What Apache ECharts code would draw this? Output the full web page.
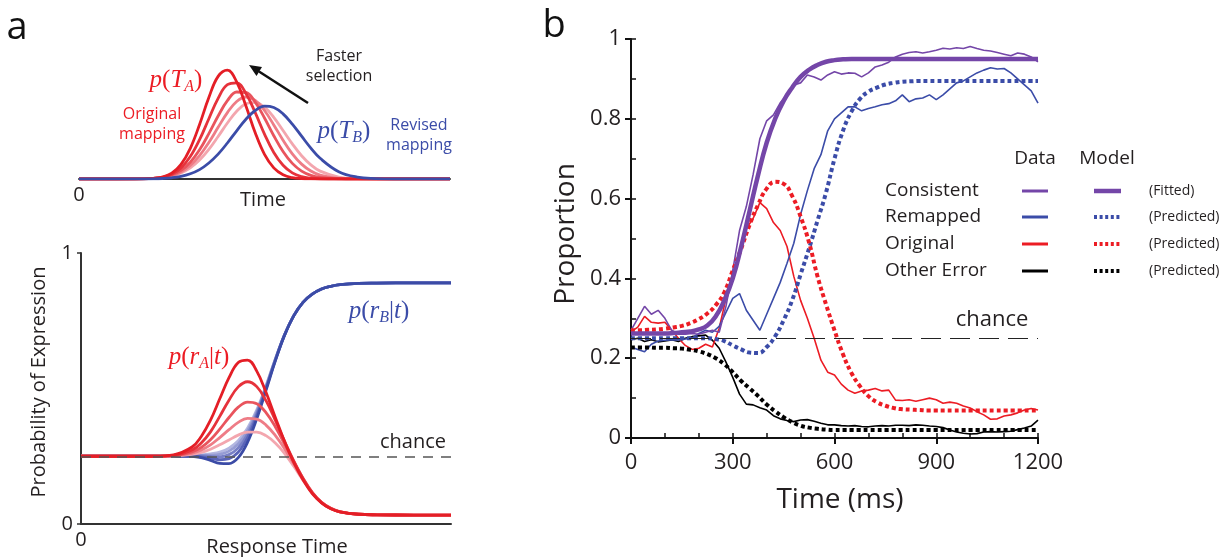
<!DOCTYPE html>
<html lang="en">
<head>
<meta charset="UTF-8">
<title>Remapping figure</title>
<script src="https://cdn.jsdelivr.net/npm/echarts@6/dist/echarts.min.js"></script>
<style>
  html, body { margin: 0; padding: 0; background: #fff; }
  #chart { width: 1229px; height: 557px; }
</style>
</head>
<body>
<div id="chart"></div>
<script>
// ---- panel a, top: selection-time densities (arbitrary units) ----
var topX = [0, 0.1, 0.15, 0.2, 0.225, 0.25, 0.275, 0.3, 0.325, 0.35, 0.375, 0.4, 0.425, 0.45, 0.475, 0.5, 0.525, 0.55, 0.575, 0.6, 0.625, 0.65, 0.7, 0.75, 0.8, 0.85, 0.9, 1]
var topRed1 = [0, 0, 0, .006, .020, .058, .146, .307, .545, .815, 1.026, 1.088, .971, .730, .462, .246, .111, .042, .013, .004, .001, 0, 0, 0, 0, 0, 0, 0]
var topRed2 = [0, 0, 0, .006, .018, .048, .111, .224, .393, .603, .807, .943, .961, .855, .664, .449, .265, .137, .061, .024, .008, .002, 0, 0, 0, 0, 0, 0]
var topRed3 = [0, 0, .001, .006, .016, .040, .086, .168, .292, .454, .630, .783, .870, .865, .768, .610, .433, .275, .156, .079, .036, .015, .002, 0, 0, 0, 0, 0]
var topRed4 = [0, 0, .001, .006, .015, .034, .071, .135, .233, .365, .517, .664, .775, .820, .787, .685, .541, .388, .252, .149, .080, .039, .007, .001, 0, 0, 0, 0]
var topRed5 = [0, 0, .001, .006, .013, .029, .060, .111, .189, .296, .425, .560, .678, .753, .767, .718, .616, .485, .351, .233, .142, .079, .019, .003, 0, 0, 0, 0]
var topBlue = [0, 0, 0, .002, .005, .012, .026, .052, .094, .160, .249, .360, .482, .598, .685, .728, .715, .651, .549, .428, .309, .207, .073, .019, .004, 0, 0, 0]

// ---- panel a, bottom: probability of expression vs response time ----
var rtX = [0, 0.1, 0.2, 0.25, 0.3, 0.325, 0.35, 0.375, 0.4, 0.425, 0.45, 0.475, 0.5, 0.525, 0.55, 0.575, 0.6, 0.625, 0.65, 0.675, 0.7, 0.75, 0.8, 0.9, 1]
var rtRed1 = [.25, .25, .25, .255, .284, .323, .383, .462, .540, .596, .605, .564, .486, .394, .305, .227, .163, .112, .078, .056, .045, .036, .034, .033, .033]
var rtRed2 = [.25, .25, .25, .253, .273, .299, .340, .397, .457, .506, .525, .507, .455, .383, .306, .233, .168, .115, .079, .057, .045, .036, .034, .033, .033]
var rtRed3 = [.25, .25, .25, .252, .266, .283, .311, .350, .393, .431, .450, .444, .411, .359, .296, .231, .169, .117, .080, .058, .045, .036, .034, .033, .033]
var rtRed4 = [.25, .25, .25, .252, .261, .273, .292, .319, .348, .375, .390, .387, .365, .327, .278, .222, .165, .116, .080, .058, .045, .036, .034, .033, .033]
var rtRed5 = [.25, .25, .25, .251, .257, .264, .276, .292, .310, .328, .339, .339, .326, .299, .261, .213, .162, .115, .080, .058, .046, .036, .034, .033, .033]
var rtBlue1 = [.25, .25, .25, .251, .250, .245, .235, .224, .223, .245, .301, .388, .493, .601, .696, .768, .818, .848, .867, .877, .883, .888, .889, .89, .89]
var rtBlue2 = [.25, .25, .25, .251, .251, .248, .243, .237, .241, .265, .318, .399, .499, .603, .697, .769, .818, .848, .867, .877, .883, .888, .889, .89, .89]
var rtBlue3 = [.25, .25, .25, .251, .252, .251, .249, .248, .256, .281, .331, .407, .503, .605, .697, .769, .818, .848, .867, .877, .883, .888, .889, .89, .89]
var rtBlue4 = [.25, .25, .25, .251, .252, .253, .254, .257, .269, .295, .343, .415, .507, .607, .698, .769, .818, .848, .867, .877, .883, .888, .889, .89, .89]
var rtBlue5 = [.25, .25, .25, .251, .253, .255, .259, .265, .280, .307, .353, .421, .510, .608, .698, .769, .818, .848, .867, .877, .883, .888, .889, .89, .89]
var chanceLevel = 0.25

// ---- panel b: observed proportions (20 ms steps) ----
var dataT = [0, 20, 40, 60, 80, 100, 120, 140, 160, 180, 200, 220, 240, 260, 280, 300, 320, 340, 360, 380, 400, 420, 440, 460, 480, 500, 520, 540, 560, 580, 600, 620, 640, 660, 680, 700, 720, 740, 760, 780, 800, 820, 840, 860, 880, 900, 920, 940, 960, 980, 1000, 1020, 1040, 1060, 1080, 1100, 1120, 1140, 1160, 1180, 1200]
var consistentData = [.27, .30, .33, .31, .32, .30, .27, .26, .26, .262, .26, .265, .27, .265, .33, .42, .52, .58, .66, .75, .795, .81, .84, .86, .885, .89, .91, .905, .897, .91, .918, .912, .915, .914, .905, .915, .93, .935, .942, .955, .962, .966, .968, .965, .968, .972, .977, .975, .978, .976, .981, .976, .972, .97, .966, .962, .958, .965, .962, .955, .943]
var remappedData = [.228, .222, .216, .235, .243, .245, .246, .246, .248, .25, .262, .27, .265, .28, .315, .35, .362, .32, .295, .27, .31, .35, .39, .438, .488, .56, .62, .675, .71, .77, .80, .815, .83, .83, .82, .826, .83, .835, .838, .845, .86, .843, .85, .852, .86, .848, .86, .875, .89, .895, .905, .915, .922, .928, .925, .926, .915, .90, .885, .87, .839]
var originalData = [.266, .278, .305, .29, .288, .29, .27, .25, .232, .222, .225, .235, .228, .275, .35, .40, .46, .525, .55, .59, .575, .54, .52, .48, .405, .345, .30, .25, .195, .165, .158, .135, .12, .112, .118, .12, .124, .118, .12, .095, .094, .096, .092, .096, .10, .096, .087, .09, .087, .08, .075, .066, .058, .047, .048, .055, .058, .063, .07, .074, .07]
var otherData = [.246, .25, .242, .246, .241, .243, .246, .242, .25, .254, .256, .258, .245, .225, .19, .152, .11, .085, .083, .076, .07, .056, .048, .044, .041, .045, .046, .042, .037, .033, .033, .031, .03, .031, .029, .028, .03, .031, .03, .032, .032, .031, .033, .032, .03, .029, .026, .02, .015, .012, .01, .011, .015, .016, .015, .016, .017, .021, .025, .03, .045]

// ---- panel b: model curves (25 ms steps) ----
var modelT = [0, 25, 50, 75, 100, 125, 150, 175, 200, 225, 250, 275, 300, 325, 350, 375, 400, 425, 450, 475, 500, 525, 550, 575, 600, 625, 650, 675, 700, 725, 750, 775, 800, 825, 850, 875, 900, 925, 950, 975, 1000, 1025, 1050, 1075, 1100, 1125, 1150, 1175, 1200]
var consistentModel = [.262, .262, .262, .262, .262, .263, .265, .267, .272, .282, .305, .345, .40, .48, .57, .66, .74, .80, .845, .878, .905, .923, .935, .943, .947, .949, .95, .95, .95, .95, .95, .95, .95, .95, .95, .95, .95, .95, .95, .95, .95, .95, .95, .95, .95, .95, .95, .95, .95]
var remappedModel = [.25, .25, .25, .25, .25, .25, .25, .25, .25, .25, .248, .243, .232, .222, .214, .213, .228, .255, .295, .345, .41, .475, .545, .615, .70, .77, .818, .85, .868, .878, .886, .89, .893, .894, .895, .895, .895, .895, .895, .895, .895, .895, .895, .895, .895, .895, .895, .895, .895]
var originalModel = [.27, .27, .271, .272, .274, .277, .281, .288, .298, .312, .333, .365, .42, .475, .535, .585, .625, .642, .637, .607, .555, .49, .405, .335, .27, .21, .163, .13, .105, .09, .081, .075, .072, .071, .07, .069, .069, .069, .069, .069, .069, .069, .069, .069, .069, .069, .069, .069, .069]
var otherModel = [.227, .227, .227, .226, .226, .225, .224, .221, .217, .21, .2, .185, .165, .143, .124, .105, .084, .067, .052, .04, .031, .026, .023, .021, .02, .02, .02, .02, .02, .02, .02, .02, .02, .02, .02, .02, .02, .02, .02, .02, .02, .02, .02, .02, .02, .02, .02, .02, .02]

var FONT = 'Open Sans'
var INK = '#231f20'
var RED = '#ec1c24'
var BLUE = '#3b4ca8'
var PURPLE = '#7446a8'
var redShades = ['#e41e26', '#e6323b', '#e9545d', '#ee7c86', '#f3a6ae']
var blueShades = ['#3b4ba6', '#5a64b8', '#7880c6', '#969cd4', '#b3b7e1']

function pairs(xs, ys) {
    return xs.map(function (x, i) { return [x, ys[i]] })
}

function curve(name, xi, yi, xs, ys, color, width, extra) {
    var s = {
        name: name, type: 'line', xAxisIndex: xi, yAxisIndex: yi,
        data: pairs(xs, ys), showSymbol: false, silent: true,
        lineStyle: { color: color, width: width }
    }
    for (var k in extra) s[k] = extra[k]
    return s
}

var chart = echarts.init(document.getElementById('chart'))

var series = []
// panel a top: light to dark reds, blue on top
var topReds = [topRed5, topRed4, topRed3, topRed2, topRed1]
topReds.forEach(function (ys, i) {
    series.push(curve('pTA' + i, 0, 0, topX, ys, redShades[4 - i], 2.8, { smooth: 0.4 }))
})
series.push(curve('pTB', 0, 0, topX, topBlue, BLUE, 2.8, { smooth: 0.4 }))

// panel a bottom
var rtBlues = [rtBlue5, rtBlue4, rtBlue3, rtBlue2, rtBlue1]
var rtReds = [rtRed5, rtRed4, rtRed3, rtRed2, rtRed1]
rtBlues.forEach(function (ys, i) {
    var extra = { smooth: 0.4 }
    if (i === 0) {
        extra.markLine = {
            symbol: 'none', silent: true, label: { show: false },
            lineStyle: { color: '#555', width: 1.5, type: [10, 8] },
            data: [{ yAxis: chanceLevel }]
        }
    }
    series.push(curve('rB' + i, 1, 1, rtX, ys, blueShades[4 - i], 2.8, extra))
})
rtReds.forEach(function (ys, i) {
    series.push(curve('rA' + i, 1, 1, rtX, ys, redShades[4 - i], 2.8, { smooth: 0.4 }))
})

// panel b data
series.push(curve('Other Error', 2, 2, dataT, otherData, '#000', 1.6, {
    markLine: {
        symbol: 'none', silent: true, label: { show: false },
        lineStyle: { color: '#222', width: 1, type: [20, 9] },
        data: [{ yAxis: chanceLevel }]
    }
}))
series.push(curve('Original', 2, 2, dataT, originalData, RED, 1.6, {}))
series.push(curve('Remapped', 2, 2, dataT, remappedData, BLUE, 1.6, {}))
series.push(curve('Consistent', 2, 2, dataT, consistentData, PURPLE, 1.6, {}))
// panel b models
series.push(curve('Other model', 2, 2, modelT, otherModel, '#000', 4, { smooth: true, lineStyle: { color: '#000', width: 4, type: [4, 3], cap: 'butt' } }))
series.push(curve('Remapped model', 2, 2, modelT, remappedModel, BLUE, 4, { smooth: true, lineStyle: { color: BLUE, width: 4, type: [4, 3], cap: 'butt' } }))
series.push(curve('Original model', 2, 2, modelT, originalModel, RED, 4, { smooth: true, lineStyle: { color: RED, width: 4, type: [4, 3], cap: 'butt' } }))
series.push(curve('Consistent model', 2, 2, modelT, consistentModel, PURPLE, 4.5, { smooth: true }))

function txt(x, y, text, size, color, align, rot) {
    return {
        type: 'text', x: x, y: y, rotation: rot || 0, silent: true,
        style: {
            text: text, fontFamily: FONT, fontSize: size, fill: color || INK,
            align: align || 'center', verticalAlign: 'middle', lineHeight: size + 4
        }
    }
}
function mathTxt(x, y, main, sub, tail, color) {
    var it = { fontFamily: 'Liberation Serif', fontStyle: 'italic', fontSize: 25, fill: color, lineHeight: 30, verticalAlign: 'middle' }
    var up = { fontFamily: 'Liberation Serif', fontSize: 25, fill: color, lineHeight: 30, verticalAlign: 'middle' }
    var sb = { fontFamily: 'Liberation Serif', fontStyle: 'italic', fontSize: 16, fill: color, lineHeight: 30, verticalAlign: 'bottom' }
    return {
        type: 'text', x: x, y: y, silent: true,
        style: {
            text: '{it|' + main[0] + '}{up|' + main[1] + '}{it|' + main[2] + '}{sb|' + sub + '}' + tail,
            align: 'center', verticalAlign: 'middle', rich: { it: it, up: up, sb: sb }, fill: color,
            fontFamily: 'Liberation Serif', fontSize: 25
        }
    }
}
function seg(x1, y1, x2, y2, color, width, dash) {
    return {
        type: 'line', silent: true, shape: { x1: x1, y1: y1, x2: x2, y2: y2 },
        style: { stroke: color, lineWidth: width, lineDash: dash || null }
    }
}

var legendRows = [
    { label: 'Consistent', color: PURPLE, dotted: false, note: '(Fitted)', y: 191 },
    { label: 'Remapped', color: BLUE, dotted: true, note: '(Predicted)', y: 217 },
    { label: 'Original', color: RED, dotted: true, note: '(Predicted)', y: 244 },
    { label: 'Other Error', color: '#000', dotted: true, note: '(Predicted)', y: 271 }
]
var graphics = [
    txt(17, 28, 'a', 38, '#111'),
    txt(554, 26, 'b', 38, '#111'),
    // panel a top
    txt(152, 124, 'Original\nmapping', 16, RED),
    txt(419, 135, 'Revised\nmapping', 16, BLUE),
    txt(339, 66, 'Faster\nselection', 16, INK),
    seg(308, 103, 259, 71.5, '#111', 2.5),
    { type: 'polygon', silent: true, shape: { points: [[249, 65], [262, 67], [256.5, 76]] }, style: { fill: '#111' } },
    txt(263, 200, 'Time', 20, INK),
    // panel a bottom
    txt(39, 382, 'Probability of Expression', 20, INK, 'center', Math.PI / 2),
    txt(277, 547, 'Response Time', 20, INK),
    txt(413, 442, 'chance', 20, INK),
    // panel b
    txt(566, 234, 'Proportion', 28, INK, 'center', Math.PI / 2),
    txt(840, 500, 'Time (ms)', 28, INK),
    txt(992, 320, 'chance', 22, INK),
    txt(1035, 159, 'Data', 19, INK),
    txt(1107, 159, 'Model', 19, INK)
]
graphics.push(mathTxt(176, 80, ['p', '(', 'T'], 'A', '{up|)}', RED))
graphics.push(mathTxt(344, 131, ['p', '(', 'T'], 'B', '{up|)}', BLUE))
graphics.push(mathTxt(199, 357, ['p', '(', 'r'], 'A', '{up||}{it|t}{up|)}', RED))
graphics.push(mathTxt(379, 311, ['p', '(', 'r'], 'B', '{up||}{it|t}{up|)}', BLUE))
legendRows.forEach(function (r) {
    graphics.push(txt(885, r.y, r.label, 19, INK, 'left'))
    graphics.push(seg(1022, r.y, 1048, r.y, r.color, 3))
    graphics.push(seg(1094, r.y, 1121, r.y, r.color, r.dotted ? 4 : 4.5, r.dotted ? [3, 2.6] : null))
    graphics.push(txt(1149, r.y, r.note, 14, INK, 'left'))
})

var axisInk = { lineStyle: { color: '#333', width: 2 } }
var options = {
    animation: false,
    backgroundColor: '#fff',
    grid: [
        { left: 79, top: 59, width: 371, height: 120 },
        { left: 81, top: 253, width: 370, height: 271 },
        { left: 631, top: 39, width: 407, height: 399 }
    ],
    xAxis: [
        {
            gridIndex: 0, type: 'value', min: 0, max: 1, interval: 1,
            axisLine: axisInk, axisTick: { show: false }, splitLine: { show: false },
            axisLabel: { fontFamily: FONT, fontSize: 20, color: INK, margin: 6, formatter: function (v) { return v === 0 ? '0' : '' } }
        },
        {
            gridIndex: 1, type: 'value', min: 0, max: 1, interval: 1,
            axisLine: axisInk, axisTick: { show: false }, splitLine: { show: false },
            axisLabel: { fontFamily: FONT, fontSize: 20, color: INK, margin: 6, formatter: function (v) { return v === 0 ? '0' : '' } }
        },
        {
            gridIndex: 2, type: 'value', min: 0, max: 1200, interval: 300,
            axisLine: { lineStyle: { color: '#111', width: 2 } },
            axisTick: { length: 6, lineStyle: { color: '#111', width: 2 } },
            splitLine: { show: false },
            axisLabel: { fontFamily: FONT, fontSize: 22, color: INK, margin: 14, formatter: function (v) { return String(v) } }
        },
        {
            gridIndex: 2, type: 'value', min: 0, max: 1200, interval: 100, position: 'bottom',
            axisLine: { show: false }, axisTick: { inside: true, length: 5, lineStyle: { color: '#111', width: 1.5 } },
            axisLabel: { show: false }, splitLine: { show: false }
        }
    ],
    yAxis: [
        { gridIndex: 0, type: 'value', min: 0, max: 1.2, show: false },
        {
            gridIndex: 1, type: 'value', min: 0, max: 1, interval: 1,
            axisLine: axisInk, axisTick: { length: 4, lineStyle: { color: '#333', width: 1.5 } }, splitLine: { show: false },
            axisLabel: { fontFamily: FONT, fontSize: 20, color: INK, margin: 8 }
        },
        {
            gridIndex: 2, type: 'value', min: 0, max: 1, interval: 0.2,
            axisLine: { show: true, lineStyle: { color: '#111', width: 2 } },
            axisTick: { show: true, length: 6, lineStyle: { color: '#111', width: 2 } },
            splitLine: { show: false },
            axisLabel: { fontFamily: FONT, fontSize: 22, color: INK, margin: 10 }
        },
        {
            gridIndex: 2, type: 'value', min: 0, max: 1, interval: 0.1, position: 'left',
            axisLine: { show: false }, axisTick: { show: true, inside: true, length: 5, lineStyle: { color: '#111', width: 1.5 } },
            axisLabel: { show: false }, splitLine: { show: false }
        }
    ],
    series: series,
    graphic: graphics
}
chart.setOption(options)
</script>
</body>
</html>
